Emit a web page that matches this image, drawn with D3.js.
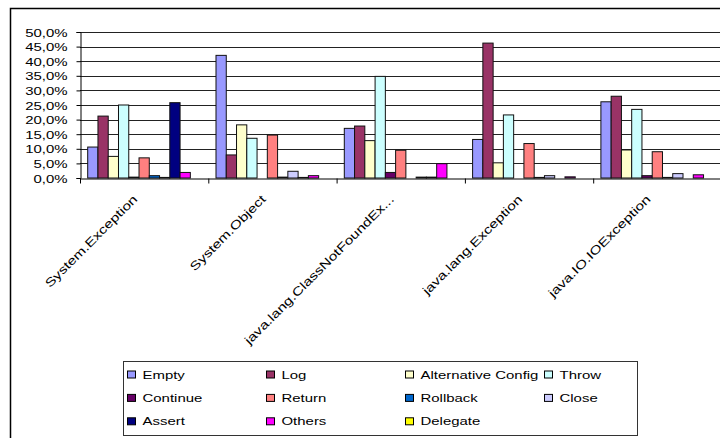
<!DOCTYPE html>
<html>
<head>
<meta charset="utf-8">
<script src="https://cdn.jsdelivr.net/npm/d3@7"></script>
<style>
  html, body { margin: 0; padding: 0; background: #fff; }
  svg { display: block; }
  text { font-family: "Liberation Sans", Arial, sans-serif; fill: #000; }
</style>
</head>
<body>
<svg id="chart" width="720" height="438"></svg>
<script>
// Share of exception-handling strategies per caught type (percent)
const categories = ["System.Exception", "System.Object", "java.lang.ClassNotFoundEx...", "java.lang.Exception", "java.IO.IOException"];
const seriesNames = ["Empty", "Log", "Alternative Config", "Throw", "Continue", "Return", "Rollback", "Close", "Assert", "Others", "Delegate"];

const empty       = [10.6, 42.0, 17.0, 13.2, 26.1];
const log         = [21.2,  7.9, 17.8, 46.2, 28.0];
const altConfig   = [ 7.4, 18.2, 12.8,  5.2,  9.6];
const throwVals   = [25.0, 13.6, 34.8, 21.6, 23.5];
const continueVals= [ 0.3,  0.0,  1.9,  0.0,  0.8];
const returnVals  = [ 6.9, 14.7,  9.5, 11.8,  9.0];
const rollback    = [ 0.8,  0.3,  0.0,  0.2,  0.2];
const closeVals   = [ 0.2,  2.3,  0.3,  0.8,  1.5];
const assertVals  = [25.8,  0.2,  0.3,  0.0,  0.0];
const others      = [ 1.9,  0.8,  4.9,  0.4,  1.1];
const delegate    = [ 0.0,  0.0,  0.0,  0.0,  0.0];

const yTicks = [0, 5, 10, 15, 20, 25, 30, 35, 40, 45, 50];

const seriesValues = [empty, log, altConfig, throwVals, continueVals, returnVals, rollback, closeVals, assertVals, others, delegate];
const colors = ["#9999FF", "#993366", "#FFFFCC", "#CCFFFF", "#660066", "#FF8080", "#0066CC", "#CCCCFF", "#000080", "#FF00FF", "#FFFF00"];

const svg = d3.select("#chart");
const SX = 1.3;          // glyph stretch along the text direction
const fontSize = 11.5;

// Outer chart frame
svg.append("rect")
  .attr("x", 10.5).attr("y", 8.5).attr("width", 800).attr("height", 500)
  .attr("fill", "#fff").attr("stroke", "#000").attr("stroke-width", 1.5);

const plot = { left: 80, right: 721.5, top: 32, bottom: 178 };

const y = d3.scaleLinear().domain([0, 50]).range([plot.bottom, plot.top]);
const x0 = d3.scaleBand().domain(categories).range([plot.left, plot.right]).padding(0);
const x1 = d3.scaleBand().domain(seriesNames).range([0, x0.bandwidth()]).paddingInner(0).paddingOuter(0.75);

// Horizontal gridlines
svg.append("g").selectAll("line").data(yTicks.filter(d => d > 0)).join("line")
  .attr("x1", plot.left).attr("x2", plot.right)
  .attr("y1", d => Math.round(y(d)) + 0.5).attr("y2", d => Math.round(y(d)) + 0.5)
  .attr("stroke", "#222").attr("stroke-width", 1);

// Bars
const groups = svg.append("g").selectAll("g").data(categories).join("g")
  .attr("transform", c => `translate(${x0(c)},0)`);
groups.selectAll("rect")
  .data((c, ci) => seriesNames.map((s, si) => ({ s, si, v: seriesValues[si][ci] })).filter(d => d.v > 0))
  .join("rect")
  .attr("x", d => x1(d.s))
  .attr("width", x1.bandwidth())
  .attr("y", d => y(d.v))
  .attr("height", d => y(0) - y(d.v))
  .attr("fill", d => colors[d.si])
  .attr("stroke", "#111").attr("stroke-width", 1);

// Y axis
const yAxis = svg.append("g")
  .attr("transform", `translate(${plot.left + 0.5},0)`)
  .call(d3.axisLeft(y).tickValues(yTicks).tickSize(4).tickPadding(0)
    .tickFormat(d => d3.format(".1f")(d).replace(".", ",") + "%"));
yAxis.select(".domain").attr("stroke", "#000");
yAxis.selectAll(".tick line").attr("stroke", "#000");
yAxis.selectAll(".tick text")
  .attr("x", -13 / SX).attr("dy", "0.36em")
  .attr("transform", `scale(${SX},1)`)
  .style("font-size", fontSize + "px").style("font-family", "'Liberation Sans', Arial, sans-serif");

// X axis with ticks at category boundaries
const xb = d3.scaleLinear().domain([0, categories.length]).range([plot.left, plot.right]);
const xAxis = svg.append("g")
  .attr("transform", `translate(0,${plot.bottom + 0.5})`)
  .call(d3.axisBottom(xb).tickValues(d3.range(categories.length + 1)).tickSize(5).tickSizeOuter(0).tickFormat(""));
xAxis.select(".domain").attr("stroke", "#000");
xAxis.selectAll(".tick line").attr("stroke", "#000");

// Rotated category labels
svg.append("g").selectAll("text").data(categories).join("text")
  .attr("transform", c => `translate(${x0(c) + x0.bandwidth() / 2 - 6},${plot.bottom + 22}) rotate(-45) scale(${SX},1)`)
  .attr("text-anchor", "end")
  .style("font-size", "12px")
  .text(c => c);

// Legend
const legend = { x: 123.5, y: 361.5, w: 514, h: 74, colStep: 139, rowStep: 23.4 };
svg.append("rect")
  .attr("x", legend.x).attr("y", legend.y).attr("width", legend.w).attr("height", legend.h)
  .attr("fill", "#fff").attr("stroke", "#333").attr("stroke-width", 1);
const items = svg.append("g").selectAll("g").data(seriesNames).join("g")
  .attr("transform", (s, i) => `translate(${legend.x + 4 + (i % 4) * legend.colStep},${legend.y + 17 + Math.floor(i / 4) * legend.rowStep})`);
items.append("rect")
  .attr("x", 0).attr("y", -7.5).attr("width", 8).attr("height", 7)
  .attr("fill", (s, i) => colors[i]).attr("stroke", "#000").attr("stroke-width", 1);
items.append("text")
  .attr("transform", `translate(15,0) scale(${SX},1)`)
  .style("font-size", fontSize + "px")
  .text(s => s);
</script>
</body>
</html>
